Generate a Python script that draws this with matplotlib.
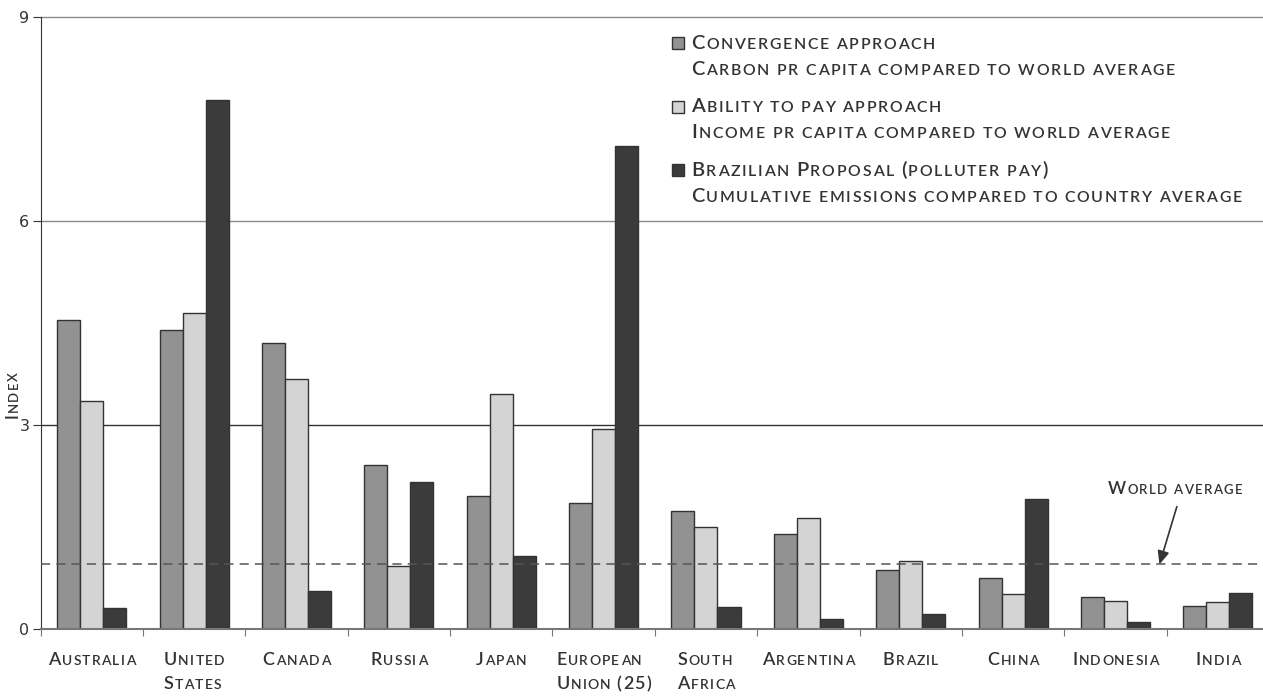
import numpy as np
import matplotlib
matplotlib.use("Agg")
import matplotlib.pyplot as plt
from matplotlib.font_manager import FontProperties, findfont, get_font
from matplotlib.transforms import IdentityTransform
from matplotlib.patches import Rectangle

# data
countries = [["Australia"], ["United", "States"], ["Canada"], ["Russia"], ["Japan"],
             ["European", "Union (25)"], ["South", "Africa"], ["Argentina"], ["Brazil"],
             ["China"], ["Indonesia"], ["India"]]
convergence = [4.54, 4.40, 4.21, 2.41, 1.95, 1.86, 1.74, 1.40, 0.87, 0.75, 0.47, 0.34]
ability = [3.36, 4.65, 3.68, 0.93, 3.46, 2.94, 1.50, 1.63, 1.00, 0.51, 0.41, 0.39]
brazilian = [0.31, 7.78, 0.56, 2.16, 1.08, 7.11, 0.33, 0.14, 0.22, 1.91, 0.11, 0.53]
world_avg = 0.95
yticks = [0, 3, 6, 9]
series_titles = ["Convergence approach", "Ability to pay approach",
                 "Brazilian Proposal (polluter pay)"]
series_notes = ["Carbon pr capita compared to world average",
                "Income pr capita compared to world average",
                "Cumulative emissions compared to country average"]
colors = ["#929292", "#d4d4d4", "#3b3b3b"]

W, H, DPI = 1263, 696, 100
TXT = "#333333"
FP = FontProperties(family="Lato", weight=600)
_ft = get_font(findfont(FP))


def adv(ch, size):
    _ft.set_size(size, DPI)
    g = _ft.load_char(ord(ch))
    return g.linearHoriAdvance / 65536


def sc_width(s, big, small, track):
    w = 0
    for ch in s:
        w += adv(ch.upper(), small if ch.islower() or ch == " " else big) + track
    return w - track


def sc_text(fig, x, y, s, big, small, track, rot=0):
    # fake small caps: lowercase letters drawn as smaller capitals
    for ch in s:
        size = small if ch.islower() or ch == " " else big
        c = ch.upper()
        if c != " ":
            fig.text(x, y, c, transform=IdentityTransform(), fontproperties=FP,
                     fontsize=size, color=TXT, ha="left", va="baseline",
                     rotation=rot, rotation_mode="anchor")
        step = adv(c, size) + track
        if rot == 0:
            x += step
        else:
            y += step


fig = plt.figure(figsize=(W / DPI, H / DPI), dpi=DPI)
left_px, right_px, top_px, bot_px = 40.6, 1269, 17, 629
ax = fig.add_axes([left_px / W, 1 - bot_px / H, (right_px - left_px) / W,
                   (bot_px - top_px) / H])

x = np.arange(len(countries))
bw = 0.225
for i, (vals, col) in enumerate(zip([convergence, ability, brazilian], colors)):
    ax.bar(x + (i - 1) * bw, vals, bw, color=col, edgecolor="#333333",
           linewidth=1, zorder=3)

ax.axhline(3, color="#333333", lw=1, zorder=1)
ax.axhline(6, color="#8a8a8a", lw=1, zorder=1)
ax.axhline(9, color="#8a8a8a", lw=1, zorder=1, clip_on=False)
ax.axhline(world_avg, color="#555555", lw=1.1, ls=(0, (6, 4)), zorder=4)

ax.set_xlim(-0.5, len(countries) - 0.5)
ax.set_ylim(0, 9)
ax.set_yticks(yticks)
ax.set_yticklabels([str(t) for t in yticks], fontsize=11.5, color=TXT,
                   family="DejaVu Sans")
ax.tick_params(axis="y", direction="out", length=6, color="#333333", pad=2)
ax.set_xticks(np.arange(len(countries)) - 0.5)
ax.set_xticklabels([])
ax.tick_params(axis="x", direction="out", length=5, color="#777777")
for s in ["top", "right"]:
    ax.spines[s].set_visible(False)
ax.spines["left"].set_color("#333333")
ax.spines["bottom"].set_color("#777777")
ax.spines["bottom"].set_linewidth(1.5)
ax.spines["bottom"].set_zorder(5)

# category labels
big, small, tr = 13, 10, 1.2
for i, lines in enumerate(countries):
    cx = ax.transData.transform((i, 0))[0]
    bwid = max(sc_width(l, big, small, tr) for l in lines)
    for j, l in enumerate(lines):
        sc_text(fig, cx - bwid / 2, H - (665 + 24 * j), l, big, small, tr)

# y label
yl = "Index"
wl = sc_width(yl, 12, 9.5, 1.2)
sc_text(fig, 18, H - 395 - wl / 2, yl, 12, 9.5, 1.2, rot=90)

# legend
lbig, lsmall, ltr = 14.5, 11.4, 1.7
for k in range(3):
    base = 49 + 63.5 * k
    fig.patches.append(Rectangle((672, H - base), 12, 12, transform=IdentityTransform(),
                                 facecolor=colors[k], edgecolor="#333333", lw=1))
    sc_text(fig, 691, H - base, series_titles[k], lbig, lsmall, ltr)
    sc_text(fig, 691, H - base - 26, series_notes[k], lbig, lsmall, ltr)

# world average note
ax.annotate("", xy=(10.43, world_avg), xytext=(10.60, 1.80),
            arrowprops=dict(arrowstyle="-|>,head_length=0.8,head_width=0.35",
                            color="#333333", lw=1.2, shrinkA=0, shrinkB=0), zorder=6)
wa = "World average"
ww = sc_width(wa, 12.5, 9.5, 1.4)
sc_text(fig, 1175 - ww / 2, H - 494, wa, 12.5, 9.5, 1.4)

fig.savefig("out.png", dpi=DPI)
